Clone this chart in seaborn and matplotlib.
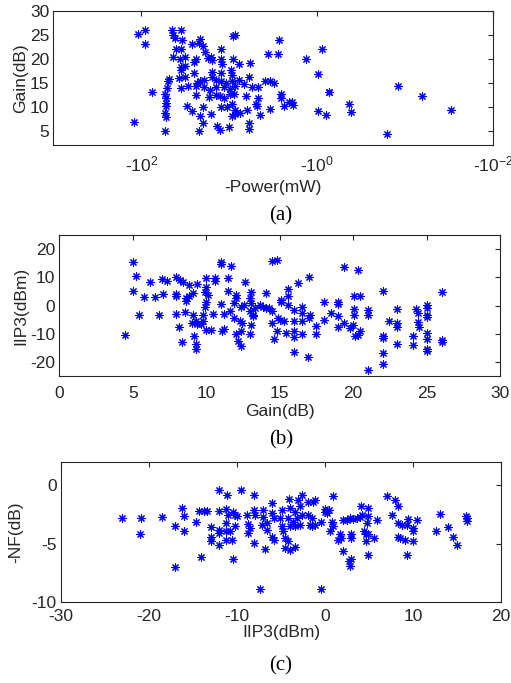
import numpy as np
import matplotlib
matplotlib.use("Agg")
import matplotlib.pyplot as plt
import seaborn as sns

# ---------------- data ----------------
# (a) Power (mW) vs Gain (dB)
power_mw = [109, 90, 90, 121, 75,
            45, 35.7, 43, 41, 34.2, 21.5, 22.1, 40, 35.7, 26.8, 19.7, 18.6, 12.3, 9.0, 8.6,
            44, 36.4, 32.2, 25.2, 24.1, 17.5, 15.5, 16, 12.4, 12.1, 9.1, 7.8, 5.8,
            35.7, 31.4, 35.7,
            24.8, 15.6, 12.5, 9.6, 9.2, 6.0,
            48.5, 50, 37.6, 31.6, 23.5, 21.2, 19.4, 15.6, 14.3, 12.5, 11.0, 9.3, 7.8, 6.8, 5.5, 4.7, 3.9, 3.45, 3.1,
            51, 35, 29.7, 24.1, 19.1, 16.6, 14.3, 11.5, 9.8, 8.6,
            53, 52, 24.1, 17, 14.3, 12.8, 11.4, 9.7, 8.7, 6.5, 4.7,
            52, 52, 30, 26.3, 19.9, 16, 12.5, 10.7, 9.3, 8.5, 6.3, 4.9, 4.8, 3.4,
            53, 52, 21.2, 19.9, 9.3, 8.5, 7.6, 6.0, 4.5,
            53, 22.3, 13.7, 12.7, 10, 6.0,
            2.7, 3.6, 2.75, 2.6, 2.6,
            1.35, 0.89, 0.99, 2.4, 2.1, 1.92, 1.87, 0.73, 0.74, 0.99, 0.80, 0.43, 0.41,
            0.12, 0.064, 0.030, 0.16]
gain_a = [25.1, 26.0, 23.1, 6.8, 13.0,
          26.0, 26.0, 25.0, 24.4, 24.0, 24.2, 23.3, 22.0, 22.0, 23.1, 22.7, 21.5, 22.0, 24.7, 25.0,
          20.3, 19.9, 20.3, 19.3, 19.9, 20.1, 19.8, 20.3, 19.9, 18.9, 19.9, 18.9, 19.1,
          18.2, 18.4, 17.7,
          17.0, 17.2, 17.0, 17.6, 16.7, 16.3,
          15.8, 15.4, 16.0, 16.2, 14.9, 15.3, 15.6, 16.2, 15.6, 15.3, 14.9, 15.3, 15.5, 14.7, 14.2, 14.1, 15.4, 15.3, 14.9,
          13.9, 13.9, 14.4, 14.4, 14.2, 13.5, 14.1, 14.1, 13.7, 14.4,
          12.6, 11.8, 12.4, 12.0, 12.4, 12.2, 11.8, 12.6, 12.6, 12.3, 11.9,
          10.8, 10.2, 10.2, 9.2, 9.9, 8.5, 9.9, 9.9, 10.6, 9.4, 9.4, 10.6, 10.1, 9.5,
          8.8, 7.8, 8.0, 6.7, 8.0, 8.5, 8.7, 6.7, 8.3,
          4.9, 4.9, 6.1, 5.2, 5.8, 5.3,
          24.0, 21.0, 21.0, 12.6, 11.8,
          19.9, 22.1, 16.9, 10.1, 11.1, 11.1, 10.4, 13.0, 13.0, 9.2, 8.3, 10.6, 9.0,
          14.4, 12.2, 9.4, 4.4]

# (b) Gain (dB) vs IIP3 (dBm)
gain_b = [5.0, 5.2, 5.0, 5.75, 5.4, 4.5, 6.2, 6.5, 6.8, 7.05, 7.0, 7.3, 7.95, 7.95, 7.95,
          8.2, 8.4, 7.95, 8.15, 8.35, 8.6, 8.85, 8.6, 8.55, 8.8, 9.1, 9.4, 9.1, 9.3, 9.4,
          9.65, 9.8, 9.0, 9.15, 9.3, 9.3, 9.8, 9.9, 10.0, 9.95, 10.0, 10.1, 10.0, 10.45,
          10.35, 10.0, 10.6, 10.6, 11.0, 11.0, 11.0, 11.2, 11.1, 11.5, 11.7, 11.5, 11.2,
          11.6, 11.9, 12.0, 12.0, 12.15, 12.4, 11.9, 12.3, 12.4, 12.45, 12.05, 12.4, 12.6,
          12.65, 12.95, 13.05, 13.05, 12.95, 13.2, 13.05, 13.0, 13.3, 13.2, 13.65, 13.85,
          14.1, 14.1, 14.3, 14.45, 14.45, 14.6, 14.5, 14.85, 14.9,
          15.1, 15.1, 15.6, 15.6, 15.6, 16.25, 17.0, 15.0, 15.3, 14.8, 15.4, 16.0, 16.0,
          16.5, 16.0, 16.5, 16.5, 16.5, 16.0, 17.0, 17.05, 16.0, 16.9, 17.45, 17.45, 18.0,
          18.05, 18.5, 19.0, 19.0, 19.0, 19.0, 19.35, 19.4, 19.8, 20.05, 20.5, 20.05, 20.05,
          20.0, 20.1, 20.3, 20.5, 20.35, 21.0, 21.0, 21.0, 22.05, 22.05, 22.05, 22.05, 22.05,
          22.45, 23.0, 23.0, 23.0, 23.0, 24.05, 24.05, 24.25, 24.4, 24.4, 24.5, 25.0, 25.0,
          25.0, 25.0, 25.0, 25.0, 25.0, 25.0, 26.05, 26.05, 26.05]
iip3_b = [15.3, 10.5, 5.2, 2.9, -3.5, -10.4, 8.2, 2.9, -3.5, 4.0, 9.4, 8.7, 10.0, 4.1, 3.2,
          9.1, 8.2, -3.1, -7.8, -12.9, 2.6, 3.2, 1.6, -2.4, 7.3, 4.4, 7.5, -3.5, -5.6, -6.6,
          -6.5, -5.6, -6.2, -10.9, -13.6, -15.6, -3.3, -0.7, 1.4, 4.9, 9.6, 3.8, 6.4, -3.1,
          -8.6, -8.6, 9.9, 8.7, 15.3, 14.6, 0.5, -8.2, -8.9, 9.6, 14.1, 5.2, -3.1,
          -2.1, 0.8, 3.6, -10.1, -12.7, -14.5, -4.5, -5.6, -8.9, -6.2, 2.6, -0.4, 0.2,
          8.5, 2.6, 0.8, 4.9, -2.1, -3.3, -6.8, -10.0, -0.9, -3.9, 0.2, -0.4,
          4.4, -0.9, -0.9, -2.1, -6.2, -11.9, 15.8, 16.1, -4.5,
          2.0, 1.2, 5.9, 3.2, 0.2, 7.9, 10.2, -5.1, -5.6, -8.9, -9.8, -9.2, -11.2,
          -10.0, -5.6, -5.6, -2.7, -0.4, -1.5, -4.5, -3.5, -16.6, -18.4, -7.4, -10.1, 1.4,
          -5.1, -2.7, 1.2, 0.5, -3.9, -7.8, 13.5, -6.2, -8.0, 3.2, 3.2, -1.2, -3.5,
          -6.8, -10.9, -10.4, -9.2, 12.6, -1.5, -3.3, -22.9, 5.2, -10.9, -11.5, -16.8, -20.9,
          -5.6, -1.3, -6.2, -7.8, -13.5, -10.9, -14.1, -1.3, -2.7, -6.0, -7.8, 0.2, -0.9,
          -3.3, -4.2, -9.8, -11.9, -15.6, -16.2, 4.7, -12.1, -12.9]

# (c) IIP3 (dBm) vs -NF (dB)
iip3_c = [-23.1, -20.95, -21.0, -18.55, -17.05, -17.05, -16.3, -16.0, -16.0, -14.7, -14.3,
          -13.8, -13.45, -14.1, -13.0, -13.0, -13.0, -12.0, -12.0, -12.0, -12.0, -12.0,
          -11.1, -11.2, -11.0, -11.2, -11.2, -10.8, -11.2, -10.6, -10.5, -10.4, -10.2, -10.0,
          -10.2, -9.6, -8.9, -8.8, -8.7, -8.5, -8.1, -8.1, -8.1, -7.95, -7.4, -6.8, -7.2,
          -7.0, -7.0, -6.6, -6.55,
          -6.05, -6.05, -5.85, -6.05, -5.85, -4.9, -5.1, -4.9, -4.75, -4.55, -4.05, -3.05,
          -2.6, -4.0, -3.4, -2.85, -4.15, -3.6, -3.2, -2.65, -4.0, -3.4, -2.85, -4.55, -4.0,
          -3.4, -4.15, -1.9, -1.35, -1.15, -1.9, -1.7, -1.5, -1.5, -1.15, -0.4, 0.0, 0.0,
          0.2, 0.4, -0.45, 0.95, 0.75, 0.95, 0.55, 1.5, 1.7, 1.8, 2.0, 2.85, 2.75, 3.0, 2.1,
          2.45, 2.85, 3.2, 3.6, 4.0, 4.15, 2.9, 2.9, 4.05, 4.9, 4.9, 4.45, 4.65, 4.9, 4.65,
          4.75, 4.9, 5.6, 5.95, 7.1, 7.95, 8.35, 7.6, 8.35, 8.7, 9.3, 9.45, 10.4, 10.05,
          10.05, 8.35, 8.5, 9.1, 10.05, 9.3, 13.05, 12.6, 14.0, 14.6, 14.95, 16.0, 16.1, 16.1]
neg_nf_c = [-2.8, -2.8, -4.15, -2.7, -7.0, -3.45, -1.9, -2.6, -3.95, -3.15, -2.2,
            -2.2, -2.2, -6.15, -3.6, -4.45, -4.8, -0.4, -2.2, -3.8, -4.05, -5.1,
            -0.8, -2.05, -2.5, -3.2, -3.95, -3.95, -4.65, -4.65, -6.3, -2.3, -2.5, -2.6,
            -3.5, -0.4, -2.5, -3.3, -4.1, -3.65, -4.95, -0.8, -2.1, -2.5, -8.85, -5.45, -3.4,
            -2.7, -2.1, -3.25, -3.8,
            -1.55, -2.4, -2.8, -4.4, -4.65, -2.1, -2.8, -3.5, -3.95, -4.5, -1.15, -1.25,
            -0.8, -1.95, -2.25, -1.8, -2.8, -3.1, -2.8, -2.5, -3.5, -3.45, -3.4, -5.35, -5.5,
            -5.3, -4.8, -1.4, -1.4, -1.25, -2.5, -3.4, -2.8, -3.5, -3.4, -3.1, -2.05, -2.25,
            -2.4, -2.1, -8.85, -0.9, -3.1, -3.5, -3.95, -4.65, -4.15, -4.5, -5.65, -6.95, -6.5, -6.35, -2.95,
            -2.95, -2.8, -2.9, -2.8, -2.7, -2.5, -4.15, -4.5, -1.8, -1.9, -2.6, -3.95, -4.15, -4.15, -4.8,
            -3.25, -6.0, -4.5, -2.95, -0.9, -1.25, -1.8, -2.5, -3.25, -3.4, -3.4, -2.9, -2.95, -3.65,
            -3.95, -4.4, -4.5, -4.65, -4.75, -6.0, -2.45, -3.95, -3.6, -4.45, -5.15, -2.6, -2.8, -3.05]

power_ticks = [-100, -1, -0.01]
power_tick_labels = ["-10$^{2}$", "-10$^{0}$", "-10$^{-2}$"]

# ---------------- style ----------------
sns.set_style("white")
plt.rcParams["font.family"] = ["Liberation Sans", "DejaVu Sans"]
plt.rcParams["axes.unicode_minus"] = False
plt.rcParams["mathtext.fontset"] = "custom"
plt.rcParams["mathtext.rm"] = "Liberation Sans"
plt.rcParams["mathtext.default"] = "regular"

FS = 12.5
AX_COLOR = "#262626"
W, H = 511, 683
fig = plt.figure(figsize=(W / 100, H / 100), dpi=100)


def add_ax(l, t, r, b):
    return fig.add_axes([l / W, 1 - b / H, (r - l) / W, (b - t) / H])


def style(ax, xpad=7.5):
    for sp in ax.spines.values():
        sp.set_color(AX_COLOR)
        sp.set_linewidth(0.8)
        sp.set_visible(True)
    ax.tick_params(direction="in", length=3.5, width=0.8, colors=AX_COLOR,
                   labelsize=FS, top=True, right=True, labeltop=False, labelright=False)
    ax.tick_params(axis="x", pad=xpad)
    ax.tick_params(axis="y", pad=3)
    ax.minorticks_off()


mk = dict(marker=(8, 2, 0), color="blue", edgecolor="blue", s=28, linewidth=0.8)

# (a)
ax1 = add_ax(53.3, 10.7, 493, 145.3)
def _fwd(x):
    with np.errstate(all="ignore"):
        return -np.log10(-np.asarray(x, dtype=float))
def _inv(y):
    return -10.0 ** (-np.asarray(y, dtype=float))
ax1.set_xscale("function", functions=(_fwd, _inv))
sns.scatterplot(x=-np.array(power_mw), y=gain_a, ax=ax1, **mk)
ax1.set_xlim(-1000, -0.01)
ax1.set_ylim(2, 30)
ax1.set_xticks(power_ticks)
ax1.set_xticklabels(power_tick_labels)
ax1.set_yticks([5, 10, 15, 20, 25, 30])
ax1.set_xlabel("-Power(mW)", fontsize=FS, labelpad=4)
ax1.set_ylabel("Gain(dB)", fontsize=FS, labelpad=1)
style(ax1, xpad=6.5)

# (b)
ax2 = add_ax(59.3, 235, 500, 376)
sns.scatterplot(x=gain_b, y=iip3_b, ax=ax2, **mk)
ax2.set_xlim(0, 30)
ax2.set_ylim(-25, 25)
ax2.set_xticks([0, 5, 10, 15, 20, 25, 30])
ax2.set_yticks([-20, -10, 0, 10, 20])
ax2.set_xlabel("Gain(dB)", fontsize=FS, labelpad=2)
ax2.set_ylabel("IIP3(dBm)", fontsize=FS, labelpad=1)
style(ax2)

# (c)
ax3 = add_ax(61, 462, 501, 602)
sns.scatterplot(x=iip3_c, y=neg_nf_c, ax=ax3, **mk)
ax3.set_xlim(-30, 20)
ax3.set_ylim(-10, 2)
ax3.set_xticks([-30, -20, -10, 0, 10, 20])
ax3.set_yticks([-10, -5, 0])
ax3.set_xlabel("IIP3(dBm)", fontsize=FS, labelpad=1)
ax3.set_ylabel("-NF(dB)", fontsize=FS, labelpad=6)
style(ax3, xpad=5)

for lab, yc in [("(a)", 216), ("(b)", 440), ("(c)", 666)]:
    fig.text(281 / W, 1 - yc / H, lab, ha="center", va="center",
             fontsize=15, family=["Liberation Serif", "DejaVu Serif"], color="black")

fig.savefig("out.png", dpi=100)
